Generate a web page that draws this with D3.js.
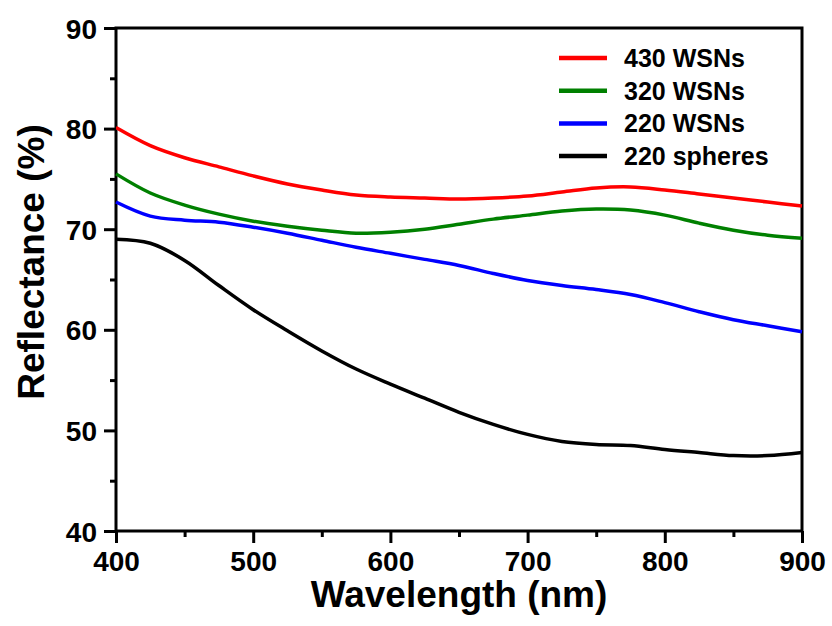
<!DOCTYPE html>
<html>
<head>
<meta charset="utf-8">
<script src="https://cdn.jsdelivr.net/npm/d3@7"></script>
<style>
body{margin:0;background:#fff}
svg{display:block}
text{font-family:"Liberation Sans",Arial,sans-serif;font-weight:bold;fill:#000}
</style>
</head>
<body>
<svg id="canvas" width="832" height="626"></svg>
<script>
// wavelength (nm) sampled every 25 nm
const wavelength=[400,425,450,475,500,525,550,575,600,625,650,675,700,725,750,775,800,825,850,875,900]
const wsn430=[80.1,78.3,77.1,76.2,75.3,74.5,73.9,73.4,73.2,73.1,73.0,73.1,73.3,73.7,74.1,74.2,73.9,73.5,73.1,72.7,72.3]
const wsn320=[75.5,73.6,72.4,71.5,70.8,70.3,69.9,69.6,69.7,70.0,70.5,71.0,71.4,71.8,72.0,71.9,71.4,70.6,69.9,69.4,69.1]
const wsn220=[72.7,71.3,70.9,70.7,70.2,69.6,68.9,68.2,67.6,67.0,66.4,65.6,64.9,64.4,64.0,63.5,62.7,61.8,61.0,60.4,59.8]
const spheres220=[69.0,68.6,66.9,64.4,62.0,59.9,57.9,56.1,54.6,53.2,51.8,50.6,49.6,48.9,48.6,48.5,48.1,47.8,47.5,47.5,47.8]

const names=["430 WSNs","320 WSNs","220 WSNs","220 spheres"]
const colors=["#ff0000","#008000","#0000ff","#000000"]
const xticks=[400,500,600,700,800,900]
const yticks=[40,50,60,70,80,90]

const series=[wsn430,wsn320,wsn220,spheres220]

let svg=d3.select("#canvas")
const mLeft=116,mRight=802,mTop=28,mBottom=531

const x=d3.scaleLinear().domain([400,900]).range([mLeft,mRight])
const y=d3.scaleLinear().domain([40,90]).range([mBottom,mTop])

// frame
svg.append("rect")
    .attr("x",mLeft).attr("y",mTop)
    .attr("width",mRight-mLeft).attr("height",mBottom-mTop)
    .attr("fill","none").attr("stroke","#000").attr("stroke-width",3)

// curves
const line=d3.line()
    .x((d,i)=>x(wavelength[i]))
    .y(d=>y(d))
    .curve(d3.curveCatmullRom)

svg.selectAll(".curve")
    .data(series)
    .enter()
    .append("path")
    .attr("class","curve")
    .attr("d",line)
    .attr("fill","none")
    .attr("stroke",(d,i)=>colors[i])
    .attr("stroke-width",3.5)

// bottom axis
const xAxis=d3.axisBottom(x).tickValues(xticks).tickSize(12).tickPadding(8)
const gx=svg.append("g").attr("transform",`translate(0,${mBottom})`).call(xAxis)
gx.append("g").call(d3.axisBottom(x).tickValues(d3.range(450,900,100)).tickSize(6).tickFormat(""))

// left axis
const yAxis=d3.axisLeft(y).tickValues(yticks).tickSize(12).tickPadding(7)
const gy=svg.append("g").attr("transform",`translate(${mLeft},0)`).call(yAxis)
gy.append("g").call(d3.axisLeft(y).tickValues(d3.range(45,90,10)).tickSize(6).tickFormat(""))

svg.selectAll(".domain").remove()
svg.selectAll(".tick line").attr("stroke","#000").attr("stroke-width",3)
gx.selectAll(".tick text").style("font-size","28px").attr("fill","#000")
gy.selectAll(".tick text").style("font-size","28px").attr("fill","#000").attr("dy","0.36em")

// titles
svg.append("text")
    .attr("x",(mLeft+mRight)/2).attr("y",607)
    .attr("text-anchor","middle")
    .style("font-size","37px")
    .text("Wavelength (nm)")

svg.append("text")
    .attr("transform","translate(44,262) rotate(-90)")
    .attr("text-anchor","middle")
    .style("font-size","37px")
    .text("Reflectance (%)")

// legend
let legend=svg.append("g")
legend.selectAll("line")
    .data(names)
    .enter()
    .append("line")
    .attr("x1",559).attr("x2",607)
    .attr("y1",(d,i)=>58+i*32.7)
    .attr("y2",(d,i)=>58+i*32.7)
    .attr("stroke",(d,i)=>colors[i])
    .attr("stroke-width",4.5)
legend.selectAll("text")
    .data(names)
    .enter()
    .append("text")
    .attr("x",624)
    .attr("y",(d,i)=>58+i*32.7)
    .attr("dy","0.36em")
    .style("font-size","25px")
    .text(d=>d)
</script>
</body>
</html>
